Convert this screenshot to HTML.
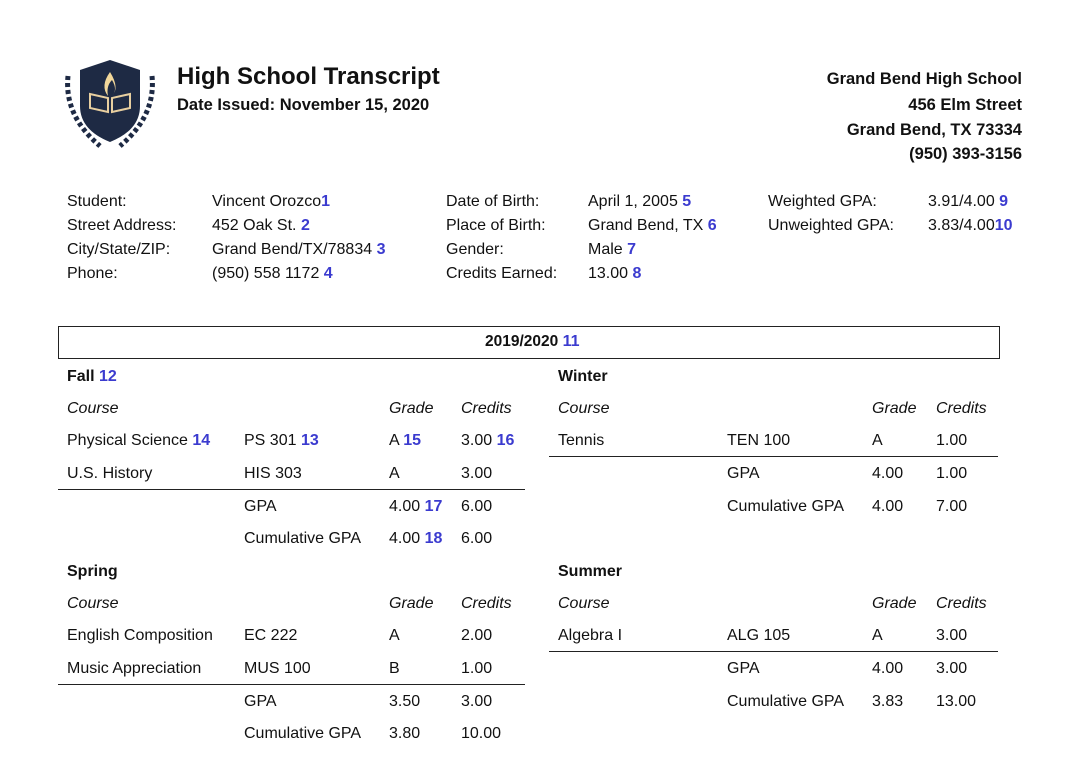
<!DOCTYPE html>
<html><head><meta charset="utf-8"><style>
body{margin:0;width:1080px;height:766px;background:#fff;position:relative;overflow:hidden;font-family:"Liberation Sans",sans-serif;color:#111}
.t{position:absolute;font-size:16px;line-height:20px;white-space:nowrap;margin-top:1px}
.b{font-weight:bold}.i{font-style:italic}
.n{color:#3b3bcf;font-weight:bold;font-size:16px;line-height:16px}
.r{text-align:right}
.l{position:absolute;height:1px;background:#222}
</style></head><body>
<svg style="position:absolute;left:60px;top:56px" width="100" height="92" viewBox="0 0 100 92">
<g fill="#1e2a44">
<path d="M50 4 L80 14 L80 50 Q80 74 50 86 Q20 74 20 50 L20 14 Z"/>
<g stroke="#1e2a44" stroke-width="5" stroke-dasharray="4 3" fill="none">
<path d="M8 20 Q4 60 40 90"/><path d="M92 20 Q96 60 60 90"/></g>
</g>
<path d="M50 16 Q40 30 48 40 Q46 30 52 24 Q58 34 52 40 Q60 32 50 16Z" fill="#f2d79a"/>
<path d="M30 38 L48 42 L48 56 L30 52Z M70 38 L52 42 L52 56 L70 52Z" fill="none" stroke="#e8cfa0" stroke-width="2"/>
</svg>
<div class="t b" style="left:177px;top:62px;font-size:24px;line-height:28px">High School Transcript</div>
<div class="t b" style="left:177px;top:94px;font-size:16.5px">Date Issued: November 15, 2020</div>
<div class="t b r" style="right:58px;top:68px;font-size:16.5px">Grand Bend High School</div>
<div class="t b r" style="right:58px;top:94px;font-size:16.5px">456 Elm Street</div>
<div class="t b r" style="right:58px;top:119px;font-size:16.5px">Grand Bend, TX 73334</div>
<div class="t b r" style="right:58px;top:143px;font-size:16.5px">(950) 393-3156</div>

<div class="t" style="left:67px;top:191px">Student:</div>
<div class="t" style="left:67px;top:215px">Street Address:</div>
<div class="t" style="left:67px;top:239px">City/State/ZIP:</div>
<div class="t" style="left:67px;top:263px">Phone:</div>
<div class="t" style="left:212px;top:191px">Vincent Orozco<span class="n">1</span></div>
<div class="t" style="left:212px;top:215px">452 Oak St. <span class="n">2</span></div>
<div class="t" style="left:212px;top:239px">Grand Bend/TX/78834 <span class="n">3</span></div>
<div class="t" style="left:212px;top:263px">(950) 558 1172 <span class="n">4</span></div>
<div class="t" style="left:446px;top:191px">Date of Birth:</div>
<div class="t" style="left:446px;top:215px">Place of Birth:</div>
<div class="t" style="left:446px;top:239px">Gender:</div>
<div class="t" style="left:446px;top:263px">Credits Earned:</div>
<div class="t" style="left:588px;top:191px">April 1, 2005 <span class="n">5</span></div>
<div class="t" style="left:588px;top:215px">Grand Bend, TX <span class="n">6</span></div>
<div class="t" style="left:588px;top:239px">Male <span class="n">7</span></div>
<div class="t" style="left:588px;top:263px">13.00 <span class="n">8</span></div>
<div class="t" style="left:768px;top:191px">Weighted GPA:</div>
<div class="t" style="left:768px;top:215px">Unweighted GPA:</div>
<div class="t" style="left:928px;top:191px">3.91/4.00 <span class="n">9</span></div>
<div class="t" style="left:928px;top:215px">3.83/4.00<span class="n">10</span></div>

<div style="position:absolute;left:58px;top:326px;width:940px;height:31px;border:1px solid #222"></div>
<div class="t b" style="left:485px;top:331px;font-size:15.5px">2019/2020 <span class="n">11</span></div>

<!-- Fall -->
<div class="t b" style="left:67px;top:366px">Fall <span class="n">12</span></div>
<div class="t i" style="left:67px;top:398px">Course</div>
<div class="t i" style="left:389px;top:398px">Grade</div>
<div class="t i" style="left:461px;top:398px">Credits</div>
<div class="t" style="left:67px;top:430px">Physical Science <span class="n">14</span></div>
<div class="t" style="left:244px;top:430px">PS 301 <span class="n">13</span></div>
<div class="t" style="left:389px;top:430px">A <span class="n">15</span></div>
<div class="t" style="left:461px;top:430px">3.00 <span class="n">16</span></div>
<div class="t" style="left:67px;top:463px">U.S. History</div>
<div class="t" style="left:244px;top:463px">HIS 303</div>
<div class="t" style="left:389px;top:463px">A</div>
<div class="t" style="left:461px;top:463px">3.00</div>
<div class="l" style="left:58px;top:489px;width:467px"></div>
<div class="t" style="left:244px;top:496px">GPA</div>
<div class="t" style="left:389px;top:496px">4.00 <span class="n">17</span></div>
<div class="t" style="left:461px;top:496px">6.00</div>
<div class="t" style="left:244px;top:528px">Cumulative GPA</div>
<div class="t" style="left:389px;top:528px">4.00 <span class="n">18</span></div>
<div class="t" style="left:461px;top:528px">6.00</div>

<!-- Winter -->
<div class="t b" style="left:558px;top:366px">Winter</div>
<div class="t i" style="left:558px;top:398px">Course</div>
<div class="t i" style="left:872px;top:398px">Grade</div>
<div class="t i" style="left:936px;top:398px">Credits</div>
<div class="t" style="left:558px;top:430px">Tennis</div>
<div class="t" style="left:727px;top:430px">TEN 100</div>
<div class="t" style="left:872px;top:430px">A</div>
<div class="t" style="left:936px;top:430px">1.00</div>
<div class="l" style="left:549px;top:456px;width:449px"></div>
<div class="t" style="left:727px;top:463px">GPA</div>
<div class="t" style="left:872px;top:463px">4.00</div>
<div class="t" style="left:936px;top:463px">1.00</div>
<div class="t" style="left:727px;top:496px">Cumulative GPA</div>
<div class="t" style="left:872px;top:496px">4.00</div>
<div class="t" style="left:936px;top:496px">7.00</div>

<!-- Spring -->
<div class="t b" style="left:67px;top:561px">Spring</div>
<div class="t i" style="left:67px;top:593px">Course</div>
<div class="t i" style="left:389px;top:593px">Grade</div>
<div class="t i" style="left:461px;top:593px">Credits</div>
<div class="t" style="left:67px;top:625px">English Composition</div>
<div class="t" style="left:244px;top:625px">EC 222</div>
<div class="t" style="left:389px;top:625px">A</div>
<div class="t" style="left:461px;top:625px">2.00</div>
<div class="t" style="left:67px;top:658px">Music Appreciation</div>
<div class="t" style="left:244px;top:658px">MUS 100</div>
<div class="t" style="left:389px;top:658px">B</div>
<div class="t" style="left:461px;top:658px">1.00</div>
<div class="l" style="left:58px;top:684px;width:467px"></div>
<div class="t" style="left:244px;top:691px">GPA</div>
<div class="t" style="left:389px;top:691px">3.50</div>
<div class="t" style="left:461px;top:691px">3.00</div>
<div class="t" style="left:244px;top:723px">Cumulative GPA</div>
<div class="t" style="left:389px;top:723px">3.80</div>
<div class="t" style="left:461px;top:723px">10.00</div>

<!-- Summer -->
<div class="t b" style="left:558px;top:561px">Summer</div>
<div class="t i" style="left:558px;top:593px">Course</div>
<div class="t i" style="left:872px;top:593px">Grade</div>
<div class="t i" style="left:936px;top:593px">Credits</div>
<div class="t" style="left:558px;top:625px">Algebra I</div>
<div class="t" style="left:727px;top:625px">ALG 105</div>
<div class="t" style="left:872px;top:625px">A</div>
<div class="t" style="left:936px;top:625px">3.00</div>
<div class="l" style="left:549px;top:651px;width:449px"></div>
<div class="t" style="left:727px;top:658px">GPA</div>
<div class="t" style="left:872px;top:658px">4.00</div>
<div class="t" style="left:936px;top:658px">3.00</div>
<div class="t" style="left:727px;top:691px">Cumulative GPA</div>
<div class="t" style="left:872px;top:691px">3.83</div>
<div class="t" style="left:936px;top:691px">13.00</div>
</body></html>
